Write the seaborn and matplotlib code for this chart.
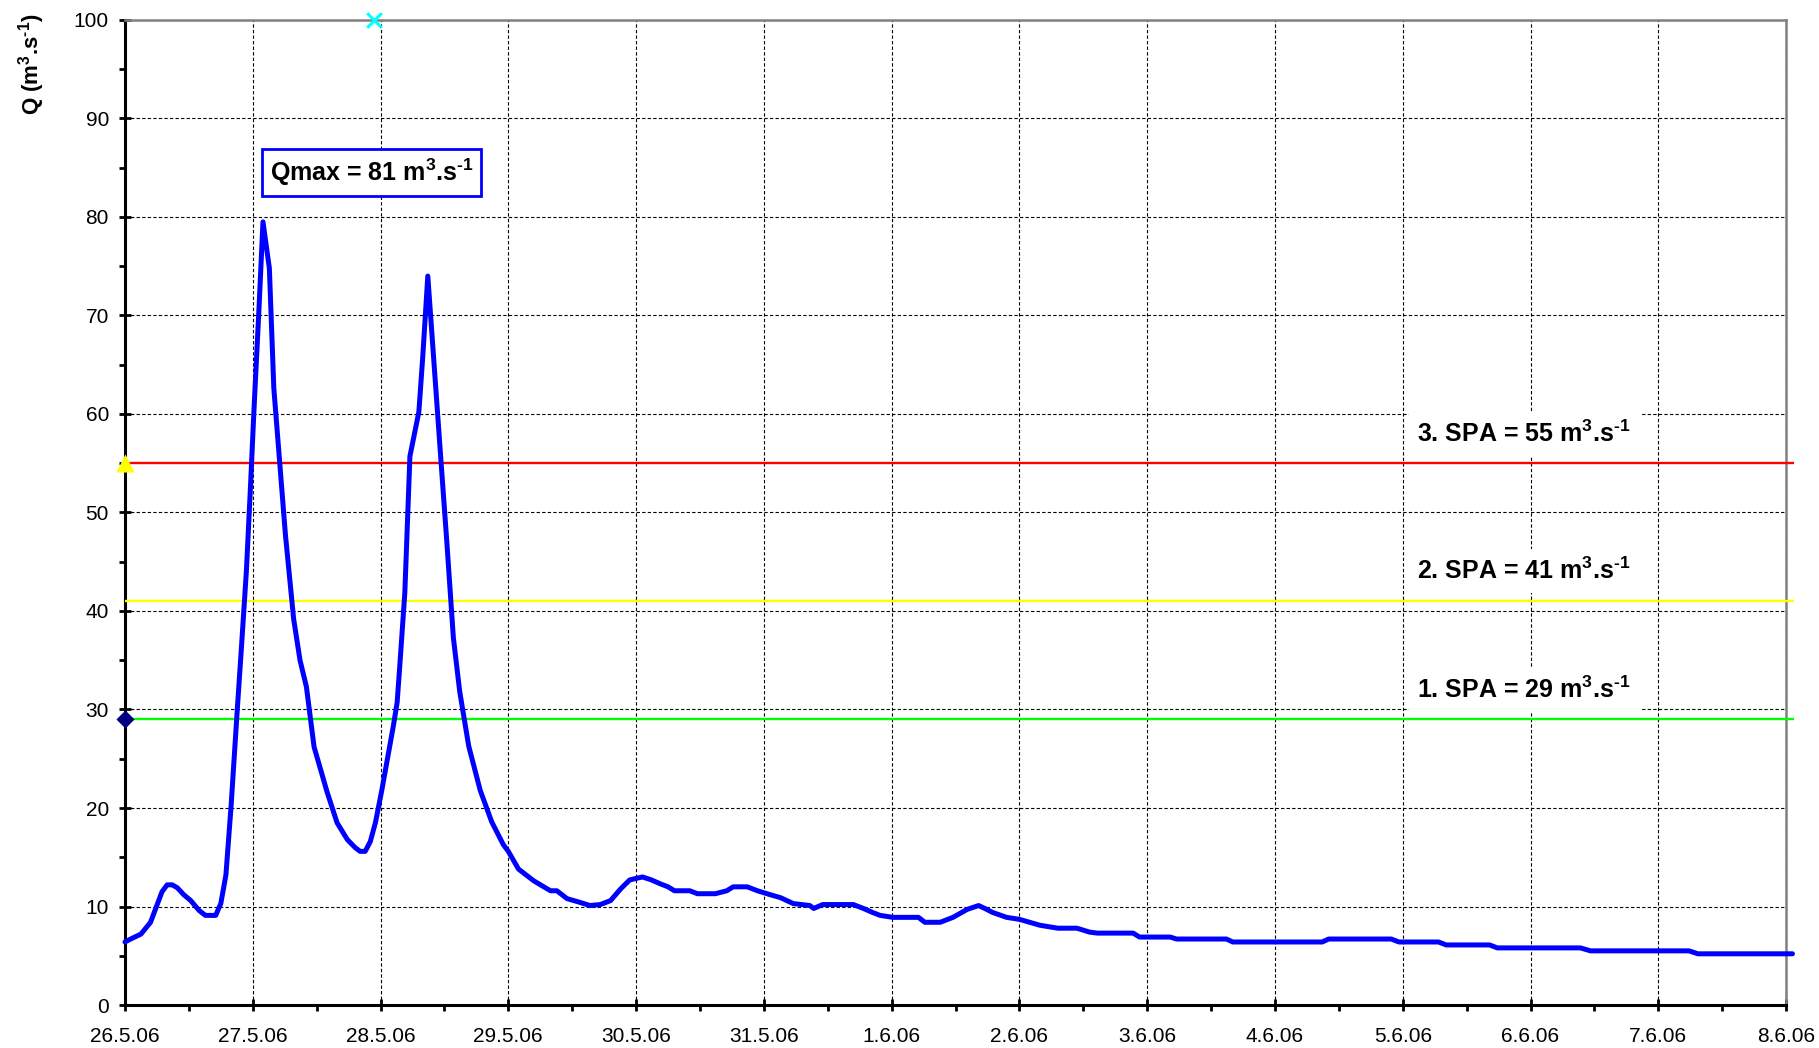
import matplotlib
matplotlib.use("Agg")
import matplotlib.pyplot as plt
import seaborn as sns
import pandas as pd
from matplotlib.ticker import FixedLocator, MultipleLocator, FixedFormatter

# Discharge hydrograph, days counted from 26.5.06 00:00
days = [
    0.00, 0.06, 0.125, 0.20, 0.255, 0.29, 0.33, 0.37, 0.41, 0.46, 0.515, 0.58,
    0.63, 0.71, 0.75, 0.79, 0.83, 0.88, 0.91, 0.95, 0.98, 1.01, 1.05, 1.08,
    1.13, 1.165, 1.21, 1.256, 1.32, 1.37, 1.42, 1.48, 1.58, 1.66, 1.74, 1.80,
    1.84, 1.88, 1.92, 1.96, 2.01, 2.10, 2.13, 2.15, 2.19, 2.23, 2.30, 2.33,
    2.37, 2.41, 2.465, 2.52, 2.57, 2.62, 2.69, 2.78, 2.87, 2.96, 3.00, 3.08,
    3.20, 3.33, 3.38, 3.46, 3.54, 3.64, 3.72, 3.80, 3.88, 3.95, 4.05, 4.12,
    4.19, 4.25, 4.30, 4.42, 4.48, 4.62, 4.71, 4.76, 4.87, 4.95, 5.05, 5.13,
    5.23, 5.36, 5.39, 5.46, 5.70, 5.78, 5.85, 5.91, 6.01, 6.21, 6.26, 6.38,
    6.48, 6.59, 6.68, 6.73, 6.79, 6.90, 7.00, 7.08, 7.16, 7.30, 7.45, 7.55,
    7.61, 7.89, 7.94, 8.18, 8.23, 8.62, 8.67, 9.37, 9.42, 9.91, 9.97, 10.28,
    10.34, 10.68, 10.74, 11.39, 11.47, 12.24, 12.31, 13.05,
]
discharge = [
    6.4, 6.8, 7.2, 8.4, 10.3, 11.5, 12.2, 12.2, 11.9, 11.2, 10.6, 9.6,
    9.1, 9.1, 10.3, 13.2, 20.1, 30.2, 36.0, 44.0, 52.0, 60.5, 71.0, 79.5,
    74.8, 62.6, 55.2, 47.7, 39.2, 35.0, 32.3, 26.2, 21.7, 18.5, 16.8, 16.0,
    15.6, 15.6, 16.6, 18.5, 21.8, 28.3, 30.7, 34.3, 41.8, 55.7, 60.2, 65.7,
    74.0, 66.7, 56.7, 46.8, 37.3, 31.8, 26.3, 21.8, 18.6, 16.3, 15.6, 13.8,
    12.6, 11.6, 11.6, 10.8, 10.5, 10.1, 10.2, 10.6, 11.8, 12.7, 13.0, 12.7,
    12.3, 12.0, 11.6, 11.6, 11.3, 11.3, 11.6, 12.0, 12.0, 11.6, 11.2, 10.9,
    10.3, 10.1, 9.8, 10.2, 10.2, 9.8, 9.4, 9.1, 8.9, 8.9, 8.4, 8.4,
    8.9, 9.7, 10.1, 9.8, 9.4, 8.9, 8.7, 8.4, 8.1, 7.8, 7.8, 7.4,
    7.3, 7.3, 6.9, 6.9, 6.7, 6.7, 6.4, 6.4, 6.7, 6.7, 6.4, 6.4,
    6.1, 6.1, 5.8, 5.8, 5.5, 5.5, 5.2, 5.2,
]

date_labels = ["26.5.06", "27.5.06", "28.5.06", "29.5.06", "30.5.06", "31.5.06",
               "1.6.06", "2.6.06", "3.6.06", "4.6.06", "5.6.06", "6.6.06",
               "7.6.06", "8.6.06"]

# Flood activity levels (SPA)
spa_levels = [29, 41, 55]
spa_names = ["1. SPA", "2. SPA", "3. SPA"]
spa_colors = ["#00ff00", "#ffff00", "#ff0000"]
spa_label_y = [32.0, 44.1, 58.0]

q_max = 81
cross_day, cross_q = 1.95, 100

# unit with superscripts; U+2010 keeps the short hyphen in the exponent
UNIT = "m$^{3}$.s$^{\u20101}$"

sns.set_theme(style="white")
plt.rcParams["font.family"] = ["Liberation Sans", "DejaVu Sans"]
plt.rcParams["mathtext.fontset"] = "custom"
plt.rcParams["mathtext.rm"] = "Liberation Sans"
plt.rcParams["mathtext.bf"] = "Liberation Sans:bold"
plt.rcParams["mathtext.default"] = "bf"
for key in ("text.color", "axes.labelcolor", "xtick.color", "ytick.color"):
    plt.rcParams[key] = "black"

fig = plt.figure(figsize=(18.19, 10.48), dpi=100)
ax = fig.add_axes([0.0687, 0.041, 0.9132, 0.940])

df = pd.DataFrame({"day": days, "Q": discharge})

ax.set_xlim(0, 13)
ax.set_ylim(0, 100)

# grid
ax.grid(True, which="major", color="black", linestyle=(0, (3, 2)), linewidth=0.8)
ax.set_axisbelow(True)

# SPA threshold lines
for lvl, col in zip(spa_levels, spa_colors):
    ax.hlines(lvl, 0, 13.06, colors=col, linewidth=1.7, clip_on=False, zorder=3)

# hydrograph
sns.lineplot(data=df, x="day", y="Q", ax=ax, color="#0000ff", linewidth=3.6,
             sort=False, zorder=5)
ax.lines[-1].set_clip_on(False)
ax.lines[-1].set_solid_joinstyle("round")
ax.lines[-1].set_solid_capstyle("round")

# markers on the Q axis
ax.scatter([0], [spa_levels[2]], marker="^", s=170, color="#ffff00",
           clip_on=False, zorder=6, linewidths=0)
ax.scatter([0], [spa_levels[0]], marker="D", s=85, color="#000080",
           clip_on=False, zorder=6, linewidths=0)
ax.scatter([cross_day], [cross_q], marker="x", s=110, color="#00ffff",
           clip_on=False, zorder=6, linewidths=2.2)

# SPA labels
for name, lvl, ly in zip(spa_names, spa_levels, spa_label_y):
    ax.text(10.95, ly, f"{name} = {lvl} {UNIT}", fontsize=18,
            fontweight="bold", color="black", ha="center", va="center",
            zorder=4,
            bbox=dict(boxstyle="square,pad=0.35", facecolor="white",
                      edgecolor="none"))

# Qmax box
ax.text(1.93, 84.5, f"Qmax = {q_max} {UNIT}", fontsize=18,
        fontweight="bold", color="black", ha="center", va="center", zorder=7,
        bbox=dict(boxstyle="square,pad=0.3", facecolor="white",
                  edgecolor="#0000ff", linewidth=2))

# axes, ticks
ax.xaxis.set_major_locator(FixedLocator(list(range(len(date_labels)))))
ax.xaxis.set_major_formatter(FixedFormatter(date_labels))
ax.xaxis.set_minor_locator(MultipleLocator(0.5))
ax.yaxis.set_major_locator(MultipleLocator(10))
ax.yaxis.set_minor_locator(MultipleLocator(5))

ax.tick_params(axis="both", which="major", direction="inout", length=9,
               width=2, color="black", labelsize=15, labelcolor="black",
               bottom=True, left=True)
ax.tick_params(axis="both", which="minor", direction="out", length=4,
               width=2, color="black", bottom=True, left=True)
ax.tick_params(axis="x", which="major", pad=11)
ax.tick_params(axis="y", which="major", pad=7)

for side in ("left", "bottom"):
    ax.spines[side].set_color("black")
    ax.spines[side].set_linewidth(2.2)
for side in ("top", "right"):
    ax.spines[side].set_color("#808080")
    ax.spines[side].set_linewidth(1.8)
    ax.spines[side].set_visible(True)

ax.set_xlabel("")
ax.set_ylabel(f"Q ({UNIT})", fontsize=16, fontweight="bold", color="black")
ax.yaxis.set_label_coords(-0.047, 0.955)

fig.savefig("out.png", dpi=100, facecolor="white")
